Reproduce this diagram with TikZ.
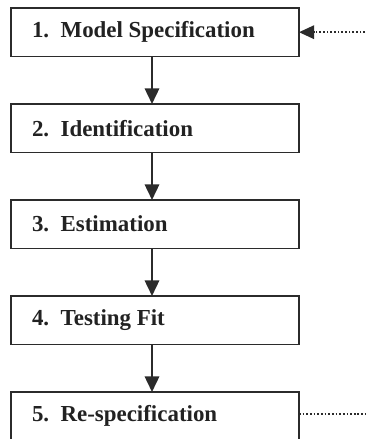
\documentclass[tikz,border=0pt]{standalone}
\usepackage{fontspec}
\setmainfont{Liberation Serif}
\usepackage{xcolor}
\usepackage{tikz}
\usetikzlibrary{arrows.meta,positioning}
\definecolor{inkline}{HTML}{2B2B2B}
\definecolor{inktext}{HTML}{222222}
\tikzset{
  stepbox/.style={draw=inkline,line width=1.1pt,fill=white,anchor=north west,outer sep=0pt,
    minimum width=7.2cm,minimum height=1.21cm,inner xsep=0.525cm,inner ysep=0pt,
    text width=6.15cm,align=flush left,text=inktext,font=\fontsize{16.3}{19}\selectfont\bfseries},
  sarr/.style={-{Triangle[length=0.39cm,width=0.36cm]},line width=1.5pt,draw=inkline},
  loopline/.style={line width=1.2pt,draw=inkline,dash pattern=on 1.2pt off 1.4pt}
}

\begin{document}
\begin{tikzpicture}[node distance=1.19cm]
  \useasboundingbox (0,0) rectangle (9.125,-10.975);
  \node[stepbox] (s1) at (0.275,-0.2) {1.\enspace Model Specification};
  \node[stepbox,below=of s1.south west,anchor=north west] (s2) {2.\enspace Identification};
  \node[stepbox,below=of s2.south west,anchor=north west] (s3) {3.\enspace Estimation};
  \node[stepbox,below=of s3.south west,anchor=north west] (s4) {4.\enspace Testing Fit};
  \node[stepbox,below=of s4.south west,anchor=north west] (s5) {5.\enspace Re-specification};
  \coordinate (rim) at (9.125,0);
  \coordinate (back1) at (s1.east -| rim);
  \coordinate (back5) at ([yshift=0.05cm]s5.east -| rim);
  \draw[sarr] ([xshift=-0.075cm]s1.south) -- ([xshift=-0.075cm]s2.north);
  \draw[sarr] ([xshift=-0.075cm]s2.south) -- ([xshift=-0.075cm]s3.north);
  \draw[sarr] ([xshift=-0.075cm]s3.south) -- ([xshift=-0.075cm]s4.north);
  \draw[sarr] ([xshift=-0.075cm]s4.south) -- ([xshift=-0.075cm]s5.north);
  \draw[loopline,-{Triangle[length=0.38cm,width=0.34cm]}] (back1) -- (s1.east);
  \draw[loopline] ([yshift=0.05cm]s5.east) -- (back5);
\end{tikzpicture}
\end{document}
